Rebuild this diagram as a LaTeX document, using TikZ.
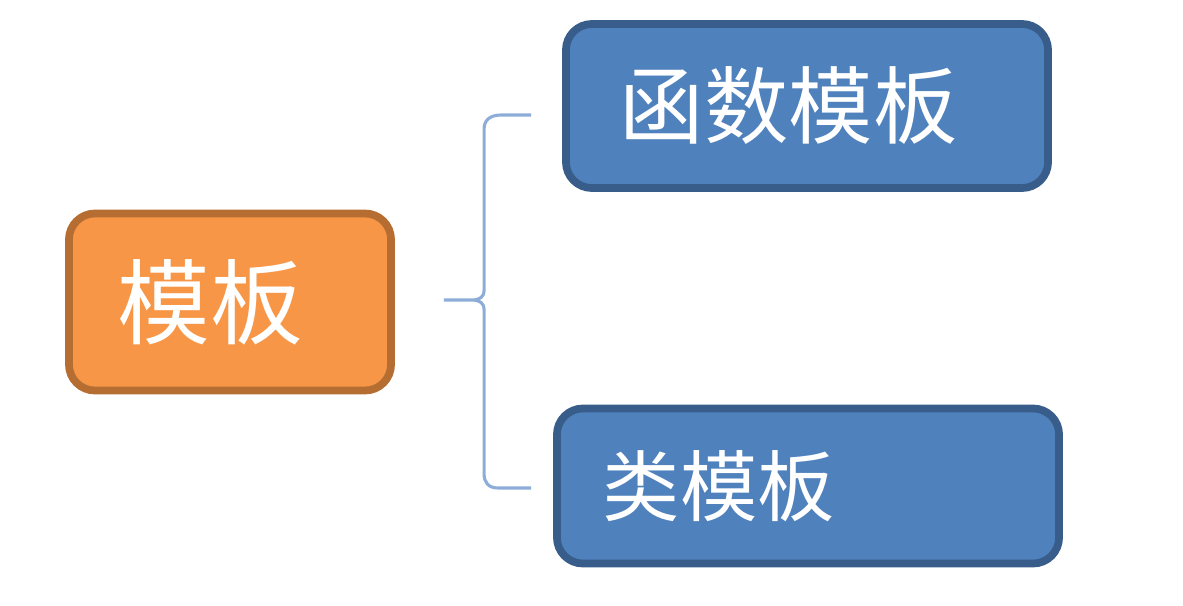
\documentclass[tikz,border=0pt]{standalone}
\usepackage{fontspec}
\newfontfamily\cjk{Noto Sans CJK SC}
\definecolor{orfill}{HTML}{F79646}
\definecolor{ordraw}{HTML}{B66D31}
\definecolor{blfill}{HTML}{4F81BD}
\definecolor{bldraw}{HTML}{385D8A}
\definecolor{brcol}{HTML}{8DADD8}
\tikzset{
    box/.style={rectangle, rounded corners=0.65cm, line width=5.5pt, text=white, align=left},
    orangebox/.style={box, fill=orfill, draw=ordraw},
    bluebox/.style={box, fill=blfill, draw=bldraw},
    brace/.style={draw=brcol, line width=2.2pt}
}

\begin{document}
\begin{tikzpicture}[x=0.025cm, y=-0.025cm]
    \useasboundingbox (0,0) rectangle (1183,605);

    \node[
        orangebox,
        text width=5.6cm,
        inner xsep=1.225cm,
        minimum height=4.425cm
    ] (mb) at (230,302) {\cjk\fontsize{66}{70}\selectfont 模板};

    \node[
        bluebox,
        text width=9.35cm,
        inner xsep=1.35cm,
        minimum height=4.1cm
    ] (hs) at (807,106) {\cjk\fontsize{60}{66}\selectfont 函数模板};

    \node[
        bluebox,
        text width=10.25cm,
        inner xsep=1.15cm,
        minimum height=3.875cm
    ] (lb) at (808,486) {\cjk\fontsize{55}{60}\selectfont 类模板};

    % brace between the boxes
    \coordinate (tip) at ([shift={(49,-2)}]mb.east);
    \coordinate (up) at ([shift={(-31,9)}]hs.west);
    \coordinate (down) at ([shift={(-22,2)}]lb.west);
    \draw[brace] (up) -- ++(-30,0) .. controls +(-12,0) and +(0,-8) .. ++(-17,14)
        -- ++(0,161) .. controls +(0,8) and +(5,-1) .. ++(-10,10) -- (tip);
    \draw[brace] (down) -- ++(-33,0) .. controls +(-10,0) and +(0,8) .. ++(-14,-14)
        -- ++(0,-164) .. controls +(0,-8) and +(5,1) .. ++(-10,-10);
\end{tikzpicture}
\end{document}
